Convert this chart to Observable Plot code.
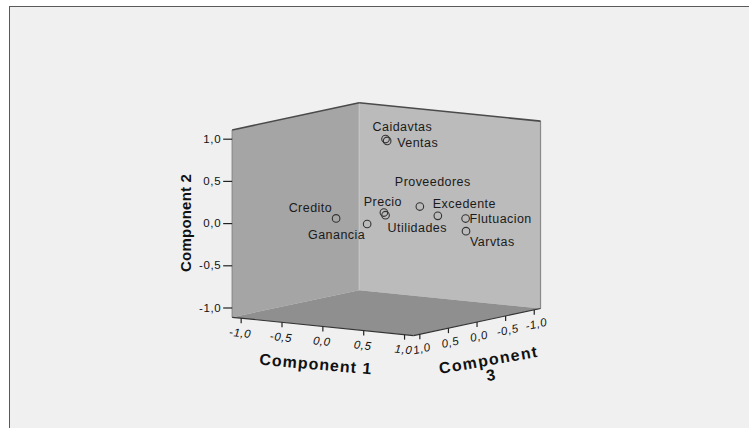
<!DOCTYPE html>
<html><head><meta charset="utf-8">
<script src="https://cdn.jsdelivr.net/npm/d3@7"></script>
<script src="https://cdn.jsdelivr.net/npm/@observablehq/plot@0.6"></script>
<style>
body{margin:0;background:#fff;}
#wrap{position:relative;width:749px;height:428px;overflow:hidden;}
#frame{position:absolute;left:9px;top:6px;right:-6px;bottom:-6px;background:#f0f0f0;border-left:1.5px solid #5a5a5a;border-top:1.5px solid #5a5a5a;}
#wrap svg{position:absolute;left:0;top:0;}
g[aria-description="labels"] text{letter-spacing:0.45px;}
g[aria-description="ticks"] text{letter-spacing:0.6px;}
g[aria-description="title1"] text{letter-spacing:1px;}
g[aria-description="title2"] text{letter-spacing:0.2px;}
g[aria-description="title3"] text{letter-spacing:1.3px;}
</style></head><body><div id="wrap"><div id="frame"></div></div>
<script>
// ---- data (component loadings) ----
const variables  = ["Caidavtas","Ventas","Credito","Ganancia","Precio","Utilidades","Proveedores","Excedente","Flutuacion","Varvtas"];
const component1 = [0.06, 0.08, -0.02, 0.29, 0.18, 0.20, 0.41, 0.56, 0.83, 0.80];
const component2 = [0.97, 0.95, 0.13, 0.08, 0.14, 0.11, 0.19, 0.08, 0.06, -0.10];
const component3 = [0.10, 0.10, 0.85, 0.75, 0.30, 0.30, 0.00, -0.10, -0.20, -0.25];
const tickValues = [-1.0, -0.5, 0.0, 0.5, 1.0];
const tickLabels = ["-1,0", "-0,5", "0,0", "0,5", "1,0"];
const axisTitles = ["Component 1", "Component 2", "Component 3"];

// ---- layout (label placement per point: anchor, dx, dy) ----
const labelPlacement = [
  ["start",-13,-12], ["start",10,2], ["end",-4,-10], ["end",-2,11], ["middle",-1,-11],
  ["start",2,13], ["start",-25,-25], ["start",-5,-12], ["start",4,0], ["start",4,11]
];
const W = 749, H = 428;
const S = 1.11; // half extent of the box
const view = {ox: 385.85, oy: 218.7, e1: [81.7, 8.24], e2: [0, -84.4], e3: [-57.2, 12.2]};
const proj = (c1, c2, c3) => [
  c1*view.e1[0] + c2*view.e2[0] + c3*view.e3[0],
  c1*view.e1[1] + c2*view.e2[1] + c3*view.e3[1]
];

const points = variables.map((name, i) => {
  const [x, y] = proj(component1[i], component2[i], component3[i]);
  const [anchor, dx, dy] = labelPlacement[i];
  return {name, x, y, anchor, lx: x + dx, ly: y + dy};
});

const face = corners => [...corners, corners[0]].map(c => { const [x, y] = proj(...c); return {x, y}; });
const leftWall  = face([[-S,-S,S],[-S,-S,-S],[-S,S,-S],[-S,S,S]]);
const rightWall = face([[-S,-S,-S],[S,-S,-S],[S,S,-S],[-S,S,-S]]);
const floorFace = face([[-S,-S,S],[S,-S,S],[S,-S,-S],[-S,-S,-S]]);
const edge = (a, b) => { const [x1, y1] = proj(...a); const [x2, y2] = proj(...b); return {x1, y1, x2, y2}; };

const topEdges   = [edge([-S,S,S],[-S,S,-S]), edge([-S,S,-S],[S,S,-S])];
const sideEdges  = [edge([-S,-S,S],[-S,S,S]), edge([S,-S,-S],[S,S,-S])];
const backEdge   = [edge([-S,-S,-S],[-S,S,-S])];
const axisEdges  = [edge([-S,-S,S],[S,-S,S]), edge([S,-S,S],[S,-S,-S])];

const yTicks = tickValues.map((v, i) => { const [x, y] = proj(-S, v, S); return {x, y, label: tickLabels[i]}; });
const xTicks = tickValues.map((v, i) => { const [x, y] = proj(v, -S, S); return {x, y, label: tickLabels[i]}; });
const zTicks = tickValues.map((v, i) => { const [x, y] = proj(S, -S, v); return {x, y, label: tickLabels[i]}; });

const [t2x, t2y] = proj(-S, 0, S);
const [t1x, t1y] = proj(0, -S, S);
const [t3x, t3y] = proj(S, -S, 0);
const titles1 = [{x: t1x - 7, y: t1y + 38, text: axisTitles[0]}];
const titles2 = [{x: t2x - 46, y: t2y - 0.7, text: axisTitles[1]}];
const titles3 = [{x: t3x + 13, y: t3y + 46, text: axisTitles[2].replace(/ (\S+)$/, "\n$1")}];

const font = "'Liberation Sans', Arial, Helvetica, sans-serif";
const tickFont = {fontSize: 11.5, fill: "#111", ariaDescription: "ticks"};

const chart = Plot.plot({
  width: W, height: H,
  marginTop: 0, marginRight: 0, marginBottom: 0, marginLeft: 0,
  x: {type: "linear", domain: [-view.ox, W - view.ox], range: [0, W], axis: null},
  y: {type: "linear", domain: [-view.oy, H - view.oy], range: [0, H], axis: null},
  style: {background: "transparent", fontFamily: font, overflow: "visible"},
  marks: [
    Plot.line(leftWall,  {x: "x", y: "y", fill: "#a5a5a5", stroke: "none"}),
    Plot.line(rightWall, {x: "x", y: "y", fill: "#bbbbbb", stroke: "none"}),
    Plot.line(floorFace, {x: "x", y: "y", fill: "#8f8f8f", stroke: "none"}),
    Plot.link(backEdge,  {x1: "x1", y1: "y1", x2: "x2", y2: "y2", stroke: "#c6c6c6", strokeWidth: 1}),
    Plot.link(sideEdges, {x1: "x1", y1: "y1", x2: "x2", y2: "y2", stroke: "#8a8a8a", strokeWidth: 1.2}),
    Plot.link(topEdges,  {x1: "x1", y1: "y1", x2: "x2", y2: "y2", stroke: "#4a4a4a", strokeWidth: 1.6}),
    Plot.link(axisEdges, {x1: "x1", y1: "y1", x2: "x2", y2: "y2", stroke: "#333", strokeWidth: 1.2}),
    // ticks
    Plot.link(yTicks, {x1: "x", y1: "y", x2: d => d.x - 9, y2: "y", stroke: "#222", strokeWidth: 1.2}),
    Plot.link(xTicks, {x1: "x", y1: "y", x2: "x", y2: d => d.y + 5, stroke: "#222", strokeWidth: 1.2}),
    Plot.link(zTicks, {x1: "x", y1: "y", x2: "x", y2: d => d.y + 5, stroke: "#222", strokeWidth: 1.2}),
    Plot.text(yTicks, {x: "x", y: "y", text: "label", dx: -11, textAnchor: "end", ...tickFont}),
    Plot.text(xTicks, {x: "x", y: "y", text: "label", dx: -1, dy: 15, rotate: 6, fontStyle: "italic", ...tickFont}),
    Plot.text(zTicks, {x: "x", y: "y", text: "label", dx: 2, dy: 14.5, rotate: -12, fontStyle: "italic", ...tickFont}),
    // titles
    Plot.text(titles1, {x: "x", y: "y", text: "text", rotate: 5, fontSize: 16, fontWeight: "bold", fill: "#111", ariaDescription: "title1"}),
    Plot.text(titles2, {x: "x", y: "y", text: "text", rotate: -90, fontSize: 15, fontWeight: "bold", fill: "#111", ariaDescription: "title2"}),
    Plot.text(titles3, {x: "x", y: "y", text: "text", rotate: -10, fontSize: 16, lineHeight: 0.95, fontWeight: "bold", fill: "#111", ariaDescription: "title3"}),
    // points
    Plot.dot(points, {x: "x", y: "y", r: 3.8, stroke: "#333", strokeWidth: 1.1, fill: "none"}),
    // labels
    ...["start", "middle", "end"].map(a =>
      Plot.text(points.filter(d => d.anchor === a), {x: "lx", y: "ly", text: "name", textAnchor: a, fontSize: 12.5, fill: "#1a1a1a", ariaDescription: "labels"}))
  ]
});
document.getElementById("wrap").appendChild(chart);
</script>
</body></html>
